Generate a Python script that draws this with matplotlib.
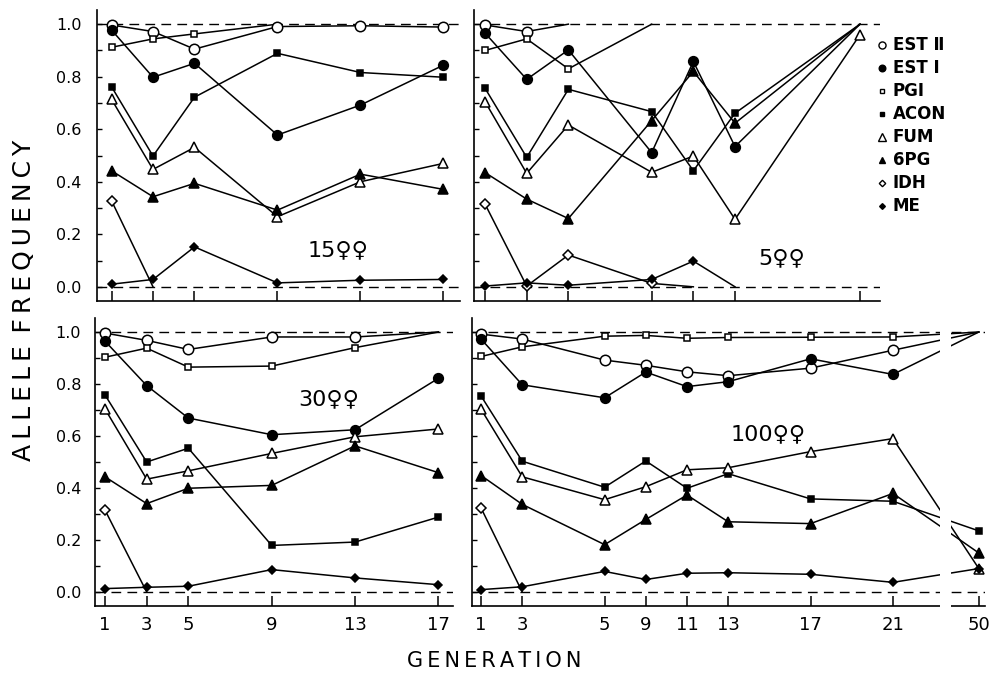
import matplotlib
matplotlib.use('Agg')
import matplotlib.pyplot as plt
from matplotlib.patches import Rectangle
import matplotlib.transforms as mtrans

# ---------------- data ----------------
loci = ['EST Ⅱ', 'EST Ⅰ', 'PGI', 'ACON', 'FUM', '6PG', 'IDH', 'ME']

gens_15 = [1, 3, 5, 9, 13, 17]
est2_15 = [0.997, 0.972, 0.905, 0.991, 0.994, 0.989]
est1_15 = [0.978, 0.798, 0.851, 0.578, 0.692, 0.844]
pgi_15 = [0.912, 0.944, 0.963, 1.0]
acon_15 = [0.762, 0.498, 0.722, 0.889, 0.816, 0.798]
fum_15 = [0.714, 0.447, 0.531, 0.267, 0.400, 0.470]
pg6_15 = [0.442, 0.343, 0.394, 0.292, 0.429, 0.371]
idh_15 = [0.328, 0.0]
me_15 = [0.010, 0.028, 0.152, 0.015, 0.025, 0.028]

gens_5 = [1, 3, 5, 9, 11, 13, 19]
est2_5 = [0.997, 0.972, 1.0]
est1_5 = [0.966, 0.790, 0.902, 0.511, 0.858, 0.534, 1.0]
pgi_5 = [0.900, 0.944, 0.830, 1.0]
acon_5 = [0.756, 0.493, 0.752, 0.667, 0.442, 0.661, 1.0]
fum_5 = [0.705, 0.432, 0.616, 0.436, 0.498, 0.257, 0.960]
pg6_5 = [0.435, 0.334, 0.260, 0.633, 0.820, 0.623, 1.0]
idh_5 = [0.315, 0.003, 0.121, 0.013, 0.0]
me_5 = [0.003, 0.015, 0.006, 0.028, 0.098, 0.0]

gens_30 = [1, 3, 5, 9, 13, 17]
est2_30 = [0.996, 0.968, 0.933, 0.981, 0.981, 1.0]
est1_30 = [0.965, 0.794, 0.669, 0.605, 0.624, 0.822]
pgi_30 = [0.903, 0.938, 0.865, 0.869, 0.940, 1.0]
acon_30 = [0.758, 0.500, 0.553, 0.179, 0.192, 0.288]
fum_30 = [0.704, 0.434, 0.466, 0.533, 0.597, 0.627]
pg6_30 = [0.443, 0.340, 0.399, 0.410, 0.562, 0.459]
idh_30 = [0.315, 0.0]
me_30 = [0.013, 0.018, 0.022, 0.086, 0.054, 0.028]

gens_100 = [1, 3, 7, 9, 11, 13, 17, 21, 50]
labels_100 = ['1', '3', '5', '9', '11', '13', '17', '21', '50']
est2_100 = [0.992, 0.973, 0.892, 0.872, 0.847, 0.832, 0.861, 0.930, 1.0]
est1_100 = [0.973, 0.797, 0.747, 0.846, 0.790, 0.809, 0.897, 0.837, 1.0]
pgi_100 = [0.906, 0.943, 0.984, 0.987, 0.976, 0.979, 0.980, 0.981, 1.0]
acon_100 = [0.754, 0.503, 0.403, 0.504, 0.399, 0.455, 0.358, 0.349, 0.235]
fum_100 = [0.703, 0.443, 0.355, 0.405, 0.470, 0.478, 0.540, 0.590, 0.090]
pg6_100 = [0.448, 0.337, 0.182, 0.279, 0.373, 0.270, 0.263, 0.379, 0.150]
idh_100 = [0.323, 0.0]
me_100 = [0.009, 0.020, 0.079, 0.048, 0.072, 0.074, 0.068, 0.037, 0.090]

ytick_vals = [0.0, 0.2, 0.4, 0.6, 0.8, 1.0]
ytick_labels = ['0.0', '0.2', '0.4', '0.6', '0.8', '1.0']

# ---------------- styling ----------------
W, H = 992, 683
fig = plt.figure(figsize=(W / 100, H / 100), dpi=100)
FONT = 'DejaVu Sans'
plt.rcParams['font.family'] = [FONT, 'Noto Sans CJK JP']

styles = {
    'EST Ⅱ': ('o', 'white', 7.5),
    'EST Ⅰ': ('o', 'black', 7.0),
    'PGI': ('s', 'white', 5.0),
    'ACON': ('s', 'black', 4.8),
    'FUM': ('^', 'white', 7.5),
    '6PG': ('^', 'black', 6.5),
    'IDH': ('D', 'white', 4.8),
    'ME': ('D', 'black', 4.3),
}

BREAK_POS = 25.17  # drawing position of generation 50 on the broken axis


def rect(l, t, r, b):
    return [l / W, 1 - b / H, (r - l) / W, (b - t) / H]


def px(x, y):
    return x / W, 1 - y / H


def spaced(s):
    return '\u2009'.join(s)


panels = [
    dict(rect=rect(97, 10, 460, 301), xlim=(0.30, 17.8), gens=gens_15,
         ticklabels=None, ylab=True, pad=11,
         series=[est2_15, est1_15, pgi_15, acon_15, fum_15, pg6_15, idh_15, me_15],
         title='15♀♀', tpos=(338, 250)),
    dict(rect=rect(474, 10, 880, 301), xlim=(0.47, 19.96), gens=gens_5,
         ticklabels=None, ylab=False, pad=9,
         series=[est2_5, est1_5, pgi_5, acon_5, fum_5, pg6_5, idh_5, me_5],
         title='5♀♀', tpos=(782, 258)),
    dict(rect=rect(95, 318, 453, 606), xlim=(0.52, 17.7), gens=gens_30,
         ticklabels=[str(g) for g in gens_30], ylab=True, pad=10,
         series=[est2_30, est1_30, pgi_30, acon_30, fum_30, pg6_30, idh_30, me_30],
         title='30♀♀', tpos=(329, 399)),
    dict(rect=rect(472, 318, 985, 606), xlim=(0.56, 25.47), gens=gens_100,
         ticklabels=labels_100, ylab=False, pad=8,
         series=[est2_100, est1_100, pgi_100, acon_100, fum_100, pg6_100, idh_100, me_100],
         title='100♀♀', tpos=(768, 434)),
]

for p in panels:
    ax = fig.add_axes(p['rect'])
    ax.set_xlim(*p['xlim'])
    ax.set_ylim(-0.054, 1.054)
    for s in ['top', 'right']:
        ax.spines[s].set_visible(False)
    for s in ['left', 'bottom']:
        ax.spines[s].set_linewidth(1.2)
    xpos = [g if g <= 21 else BREAK_POS for g in p['gens']]
    ax.axhline(0.0, color='black', lw=1.0, ls=(0, (7, 4.5)), zorder=1)
    ax.axhline(1.0, color='black', lw=1.0, ls=(0, (7, 4.5)), zorder=1)
    for name, vals in zip(loci, p['series']):
        mk, fc, ms = styles[name]
        xs = xpos[:len(vals)]
        ax.plot(xs, vals, color='black', lw=1.1, zorder=3, clip_on=False)
        mx = [x for x, v in zip(xs, vals) if 0.0 < v < 1.0]
        my = [v for v in vals if 0.0 < v < 1.0]
        ax.plot(mx, my, ls='none', marker=mk, mfc=fc, mec='black', mew=1.1,
                ms=ms, zorder=4, clip_on=False)
    ax.set_xticks(xpos)
    if p['ticklabels']:
        ax.set_xticklabels(p['ticklabels'], fontsize=13)
    else:
        ax.set_xticklabels([])
    ax.tick_params(axis='x', direction='in', length=7, width=1.1, pad=7)
    ax.set_yticks(ytick_vals)
    ax.set_yticks([0.1, 0.3, 0.5, 0.7, 0.9], minor=True)
    if p['ylab']:
        ax.set_yticklabels(ytick_labels, fontsize=11.5)
    else:
        ax.set_yticklabels([])
    ax.tick_params(axis='y', which='both', direction='in', length=3.5,
                   width=1.0, pad=p['pad'])
    ax.text(*px(*p['tpos']), p['title'], transform=fig.transFigure,
            ha='center', va='center', fontsize=16)
    if p['ticklabels'] == labels_100:
        trans = mtrans.blended_transform_factory(ax.transData, ax.transAxes)
        ax.add_patch(Rectangle((23.28, -0.08), 0.52, 1.2, transform=trans,
                               facecolor='white', edgecolor='none',
                               clip_on=False, zorder=20))

# legend
leg_y0, leg_dy = 45, 23.0
for i, name in enumerate(loci):
    mk, fc, ms = styles[name]
    y = leg_y0 + i * leg_dy
    fig.lines.append(plt.Line2D([882 / W], [1 - y / H], transform=fig.transFigure,
                                ls='none', marker=mk, mfc=fc, mec='black',
                                mew=1.0, ms=ms * 0.68))
    fig.text(*px(893, y), name, ha='left', va='center', fontsize=12,
             fontweight='bold')

fig.text(*px(24, 300), spaced('ALLELE') + '\u2002' + spaced('FREQUENCY'),
         rotation=90, ha='center', va='center', fontsize=18)
fig.text(*px(494, 661), spaced('GENERATION'), ha='center', va='center',
         fontsize=15)

fig.savefig('out.png', dpi=100, facecolor='white')
